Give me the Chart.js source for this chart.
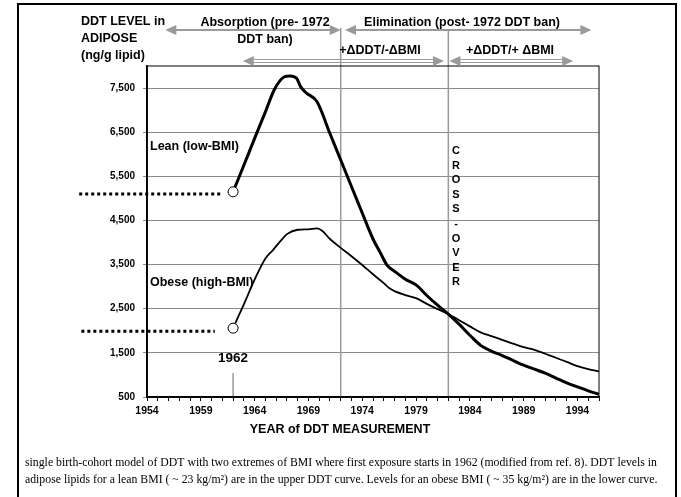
<!DOCTYPE html>
<html lang="en">
<head>
<meta charset="UTF-8">
<title>DDT level in adipose - single birth-cohort model</title>
<script src="https://cdn.jsdelivr.net/npm/chart.js@4.4.1/dist/chart.umd.min.js"></script>
<style>
    html, body { margin: 0; padding: 0; background: #fff; }
    #wrap { width: 681px; height: 497px; }
</style>
</head>
<body>
<div id="wrap"><canvas id="ddtChart" width="681" height="497"></canvas></div>

<script>
    // values (year, ng/g lipid)
    const leanYears = [1962, 1963, 1964, 1965, 1965.8, 1966.4, 1966.8, 1967.3, 1967.9, 1968.3, 1968.8, 1969.8,
        1971, 1972, 1973, 1974, 1975, 1975.7, 1976.3, 1977, 1978, 1979, 1980, 1981, 1982,
        1983, 1984, 1985, 1986, 1987, 1988, 1989, 1990, 1991, 1992, 1993, 1994, 1995, 1996];
    const leanValues = [5150, 5750, 6360, 6960, 7450, 7680, 7760, 7775, 7720, 7520, 7390, 7190,
        6470, 5870, 5270, 4670, 4080, 3760, 3490, 3350, 3170, 3040, 2800, 2580, 2380,
        2150, 1900, 1670, 1540, 1440, 1330, 1220, 1130, 1040, 930, 820, 730, 640, 560];

    const obeseYears = [1962, 1963, 1964, 1965, 1965.7, 1966.5, 1967, 1968, 1969, 1969.8, 1970.3,
        1971, 1972, 1973, 1974, 1975, 1976, 1976.5, 1977, 1978, 1979, 1980, 1981, 1982,
        1983, 1984, 1985, 1986, 1987, 1988, 1989, 1990, 1991, 1992, 1993, 1994, 1995, 1996];
    const obeseValues = [2060, 2600, 3160, 3640, 3830, 4060, 4190, 4290, 4300, 4320, 4260,
        4080, 3880, 3690, 3490, 3280, 3080, 2970, 2900, 2810, 2740, 2610, 2490, 2380,
        2240, 2100, 1965, 1880, 1795, 1710, 1630, 1570, 1480, 1390, 1295, 1200, 1130, 1080];

    // dotted pre-exposure levels, drawn to the left of the axis
    const leanBaseYears = [1947.7, 1961.0];
    const leanBaseValue = 5100;
    const obeseBaseYears = [1947.9, 1960.3];
    const obeseBaseValue = 1990;

    const xTickLabels = [1954, 1959, 1964, 1969, 1974, 1979, 1984, 1989, 1994];
    const yTickValues = [500, 1500, 2500, 3500, 4500, 5500, 6500, 7500];

    const SANS = '"Liberation Sans", Arial, sans-serif';
    const SERIF = '"Liberation Serif", "Times New Roman", serif';
    const GREY = '#9a9a9a';

    // header arrows, ends given in years
    const arrows = [
        {from: 1955.7, to: 1972.0, y: 30, hollow: false},
        {from: 1972.4, to: 1995.3, y: 30, hollow: false},
        {from: 1962.9, to: 1981.6, y: 61, hollow: true},
        {from: 1982.1, to: 1993.6, y: 61, hollow: true}
    ];

    function pts(xs, ys) {
        return xs.map((v, i) => ({x: v, y: Array.isArray(ys) ? ys[i] : ys}));
    }

    function head(ctx, tipX, y, dir) {
        ctx.beginPath();
        ctx.moveTo(tipX, y);
        ctx.lineTo(tipX - dir * 11, y - 5);
        ctx.lineTo(tipX - dir * 11, y + 5);
        ctx.closePath();
        ctx.fill();
    }

    function drawArrow(ctx, x1, x2, y, hollow) {
        ctx.save();
        ctx.strokeStyle = GREY;
        ctx.fillStyle = GREY;
        ctx.lineWidth = hollow ? 1 : 2;
        ctx.beginPath();
        if (hollow) {
            ctx.moveTo(x1 + 9, y - 1.5); ctx.lineTo(x2 - 9, y - 1.5);
            ctx.moveTo(x1 + 9, y + 1.5); ctx.lineTo(x2 - 9, y + 1.5);
        } else {
            ctx.moveTo(x1 + 9, y); ctx.lineTo(x2 - 9, y);
        }
        ctx.stroke();
        head(ctx, x1, y, -1);
        head(ctx, x2, y, 1);
        ctx.restore();
    }

    function text(ctx, str, x, y, size, align) {
        ctx.font = 'bold ' + size + 'px ' + SANS;
        ctx.textAlign = align || 'center';
        ctx.textBaseline = 'middle';
        ctx.fillText(str, x, y);
    }

    const decor = {
        id: 'decor',
        beforeDatasetsDraw(chart) {
            const ctx = chart.ctx, xs = chart.scales.x, a = chart.chartArea;
            ctx.save();
            ctx.strokeStyle = GREY;
            ctx.lineWidth = 1.5;
            ctx.beginPath();
            ctx.moveTo(xs.getPixelForValue(1972), 28); ctx.lineTo(xs.getPixelForValue(1972), a.bottom);
            ctx.moveTo(xs.getPixelForValue(1982), 31); ctx.lineTo(xs.getPixelForValue(1982), a.bottom);
            ctx.moveTo(xs.getPixelForValue(1962), 373); ctx.lineTo(xs.getPixelForValue(1962), a.bottom);
            ctx.stroke();
            ctx.restore();
        },
        afterDraw(chart) {
            const ctx = chart.ctx, xs = chart.scales.x, a = chart.chartArea;
            ctx.save();

            // plot frame
            ctx.strokeStyle = '#000';
            ctx.lineWidth = 1;
            ctx.strokeRect(a.left, a.top, a.right - a.left, a.bottom - a.top);
            ctx.lineWidth = 1.5;
            ctx.beginPath();
            ctx.moveTo(a.left, a.top); ctx.lineTo(a.left, a.bottom); ctx.lineTo(a.right, a.bottom);
            ctx.stroke();

            // outer frame
            ctx.lineWidth = 2;
            ctx.strokeRect(18, 4, 658, 500);

            arrows.forEach(r => drawArrow(ctx, xs.getPixelForValue(r.from), xs.getPixelForValue(r.to), r.y, r.hollow));

            ctx.fillStyle = '#000';
            text(ctx, 'DDT LEVEL in', 81, 22, 12.5, 'left');
            text(ctx, 'ADIPOSE', 81, 39, 12.5, 'left');
            text(ctx, '(ng/g lipid)', 81, 56, 12.5, 'left');
            text(ctx, 'Absorption (pre- 1972', 265, 23, 12.5);
            text(ctx, 'DDT ban)', 265, 40, 12.5);
            text(ctx, 'Elimination (post- 1972 DDT ban)', 462, 23, 12.5);
            text(ctx, '+\u0394DDT/-\u0394BMI', 380, 51, 12.5);
            text(ctx, '+\u0394DDT/+ \u0394BMI', 510, 51, 12.5);
            text(ctx, 'Lean (low-BMI)', 150, 147, 12.5, 'left');
            text(ctx, 'Obese (high-BMI)', 150, 283, 12.5, 'left');
            text(ctx, '1962', xs.getPixelForValue(1962), 358, 13.5);

            'CROSS-OVER'.split('').forEach((c, i) => text(ctx, c, 456, 151 + i * 14.6, 11));

            text(ctx, 'YEAR of DDT MEASUREMENT', 340, 430, 12.5);

            // caption
            const cap1 = 'single birth-cohort model of DDT with two extremes of BMI where first exposure starts in 1962 (modified from ref. 8). DDT levels in';
            const cap2 = 'adipose lipids for a lean BMI ( ~ 23 kg/m\u00B2) are in the upper DDT curve. Levels for an obese BMI ( ~ 35 kg/m\u00B2) are in the lower curve.';
            ctx.font = '12px ' + SERIF;
            const size = Math.min(13, 12 * 633 / ctx.measureText(cap1).width);
            ctx.font = size + 'px ' + SERIF;
            ctx.textAlign = 'left';
            ctx.textBaseline = 'middle';
            ctx.fillText(cap1, 25, 463);
            ctx.fillText(cap2, 25, 480);
            ctx.restore();
        }
    };

    new Chart(document.getElementById('ddtChart'), {
        type: 'line',
        data: {
            datasets: [
                {
                    label: 'Lean (low-BMI)',
                    data: pts(leanYears, leanValues),
                    borderColor: '#000',
                    borderWidth: 3,
                    cubicInterpolationMode: 'monotone',
                    pointRadius: c => c.dataIndex === 0 ? 5 : 0,
                    pointBackgroundColor: '#fff',
                    pointBorderColor: '#000',
                    pointBorderWidth: 1
                },
                {
                    label: 'Obese (high-BMI)',
                    data: pts(obeseYears, obeseValues),
                    borderColor: '#000',
                    borderWidth: 1.8,
                    cubicInterpolationMode: 'monotone',
                    pointRadius: c => c.dataIndex === 0 ? 5 : 0,
                    pointBackgroundColor: '#fff',
                    pointBorderColor: '#000',
                    pointBorderWidth: 1
                },
                {
                    label: 'lean baseline',
                    data: pts(leanBaseYears, leanBaseValue),
                    borderColor: '#000',
                    borderWidth: 3,
                    borderDash: [3, 3],
                    pointRadius: 0,
                    clip: false
                },
                {
                    label: 'obese baseline',
                    data: pts(obeseBaseYears, obeseBaseValue),
                    borderColor: '#000',
                    borderWidth: 3,
                    borderDash: [3, 3],
                    pointRadius: 0,
                    clip: false
                }
            ]
        },
        options: {
            responsive: false,
            animation: false,
            devicePixelRatio: 1,
            layout: {padding: {left: 87, top: 66, right: 82, bottom: 65}},
            plugins: {legend: {display: false}, tooltip: {enabled: false}},
            scales: {
                x: {
                    type: 'linear',
                    min: 1954,
                    max: 1996,
                    afterBuildTicks: s => {
                        const t = [];
                        for (let yr = 1954; yr <= 1996; yr++) t.push({value: yr});
                        s.ticks = t;
                    },
                    afterFit: s => { s.height = 35; },
                    ticks: {
                        autoSkip: false,
                        maxRotation: 0,
                        padding: 4,
                        color: '#000',
                        font: {family: SANS, size: 10.5, weight: 'bold'},
                        callback: v => xTickLabels.includes(v) ? String(v) : ''
                    },
                    grid: {drawOnChartArea: false, tickLength: 4, color: '#000', lineWidth: 1},
                    border: {color: '#000', width: 1.5}
                },
                y: {
                    type: 'linear',
                    min: 500,
                    max: 8000,
                    afterBuildTicks: s => { s.ticks = yTickValues.map(v => ({value: v})); },
                    afterFit: s => { s.width = 60; },
                    ticks: {
                        padding: 8,
                        color: '#000',
                        font: {family: SANS, size: 10, weight: 'bold'},
                        callback: v => v.toLocaleString('en-US')
                    },
                    grid: {color: '#8a8a8a', lineWidth: 1, tickLength: 4, tickColor: '#8a8a8a'},
                    border: {color: '#000', width: 1.5}
                }
            }
        },
        plugins: [decor]
    });
</script>
</body>
</html>
